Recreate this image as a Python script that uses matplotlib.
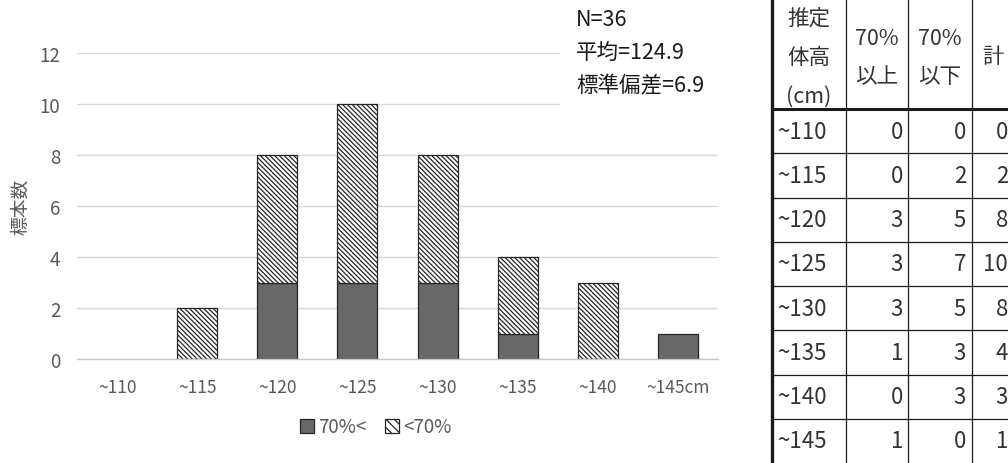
import numpy as np
import matplotlib
matplotlib.use("Agg")
import matplotlib.pyplot as plt
from matplotlib.patches import Patch, Rectangle

plt.rcParams['font.family'] = ['Noto Sans CJK JP', 'DejaVu Sans']
plt.rcParams['hatch.linewidth'] = 0.9

# data
categories = ['~110', '~115', '~120', '~125', '~130', '~135', '~140', '~145cm']
row_labels = ['~110', '~115', '~120', '~125', '~130', '~135', '~140', '~145']
above70 = [0, 0, 3, 3, 3, 1, 0, 1]   # 70%以上
below70 = [0, 2, 5, 7, 5, 3, 3, 0]   # 70%以下
totals = [a + b for a, b in zip(above70, below70)]
stats = ['N=36', '平均=124.9', '標準偏差=6.9']

W, H = 1008, 464
fig = plt.figure(figsize=(W / 100, H / 100), dpi=100)
ax = fig.add_axes([77 / W, 1 - 360 / H, 641 / W, 306 / H])

x = np.arange(len(categories))
gray = '#595959'
edge = '#262626'
hatch = '\\' * 7

# draw only non-zero segments (Excel style)
xa = [i for i, v in zip(x, above70) if v > 0]
va = [v for v in above70 if v > 0]
ax.bar(xa, va, 0.5, color='#686868', edgecolor=edge, linewidth=0.9, zorder=2)
xb = [i for i, v in zip(x, below70) if v > 0]
vb = [v for v in below70 if v > 0]
bb = [a for a, v in zip(above70, below70) if v > 0]
ax.bar(xb, vb, 0.5, bottom=bb, color='white', edgecolor=edge, linewidth=0.9,
       hatch=hatch, zorder=2)

ax.set_xlim(-0.5, len(categories) - 0.5)
ax.set_ylim(0, 12)
ax.set_yticks(range(0, 13, 2))
ax.set_xticks(x)
ax.set_xticklabels(categories)
ax.tick_params(axis='y', length=0, pad=12, labelsize=13.5, labelcolor=gray)
ax.tick_params(axis='x', length=0, pad=14, labelsize=12.5, labelcolor=gray)
ax.yaxis.grid(True, color='#d9d9d9', linewidth=1)
ax.set_axisbelow(True)
for s in ['top', 'right', 'left']:
    ax.spines[s].set_visible(False)
ax.spines['bottom'].set_color('#c8c8c8')
ax.spines['bottom'].set_linewidth(1)
ax.set_ylabel('標本数', fontsize=13.5, color=gray)
ax.yaxis.set_label_coords(-(77 - 31) / 641, 0.5)

# stats text box (white background hides the grid lines behind it)
fig.patches.append(Rectangle((560 / W, 1 - 109 / H), 165 / W, 106 / H,
                             transform=fig.transFigure, facecolor='white',
                             edgecolor='none', zorder=3))
for k, s in enumerate(stats):
    fig.text(576 / W, 1 - (20 + 33 * k) / H, s, fontsize=15.5, color='#1a1a1a',
             va='center', zorder=4)

# legend
handles = [Patch(facecolor='#686868', edgecolor=edge, linewidth=0.9),
           Patch(facecolor='white', edgecolor=edge, linewidth=0.9, hatch='\\\\\\\\')]
fig.legend(handles, ['70%<', '<70%'], loc='center', bbox_to_anchor=(376 / W, 1 - 428 / H),
           ncol=2, frameon=False, handlelength=0.7, handleheight=0.7, handletextpad=0.25,
           columnspacing=1.0, fontsize=13.5, labelcolor=gray, borderpad=0)

# table on the right, drawn in pixel coordinates
tax = fig.add_axes([760 / W, 0, 248 / W, 1])
tax.set_xlim(760, 1008)
tax.set_ylim(464, 0)
tax.axis('off')

line_c = '#1a1a1a'
txt_c = '#333333'
col_x = [772, 846, 908, 972, 1014]
head_bottom = 110
row_h = 44.25

tax.vlines(col_x[0], -5, 470, color=line_c, linewidth=2.4)
tax.vlines(col_x[1:], -5, 470, color=line_c, linewidth=0.9)
tax.hlines(head_bottom, col_x[0], col_x[-1], color=line_c, linewidth=2.2)
row_edges = [head_bottom + row_h * (i + 1) for i in range(len(row_labels) - 1)]
tax.hlines(row_edges, col_x[0], col_x[-1], color=line_c, linewidth=0.9)

fs_head = 15.5
fs_body = 16
for k, s in enumerate(['推定', '体高', '(cm)']):
    tax.text(809, 19 + 39 * k, s, ha='center', va='center', fontsize=fs_head, color=txt_c)
for cx, lines in [(877, ['70%', '以上']), (940, ['70%', '以下'])]:
    for k, s in enumerate(lines):
        tax.text(cx, 39 + 38 * k, s, ha='center', va='center', fontsize=fs_head, color=txt_c)
tax.text(993, 57, '計', ha='center', va='center', fontsize=fs_head, color=txt_c)

for i, lab in enumerate(row_labels):
    cy = head_bottom + row_h * (i + 0.5)
    tax.text(777, cy, lab, ha='left', va='center', fontsize=fs_body, color=txt_c)
    tax.text(903, cy, str(above70[i]), ha='right', va='center', fontsize=fs_body, color=txt_c)
    tax.text(966, cy, str(below70[i]), ha='right', va='center', fontsize=fs_body, color=txt_c)
    tax.text(1008, cy, str(totals[i]), ha='right', va='center', fontsize=fs_body, color=txt_c)

fig.savefig('out.png', dpi=100, facecolor='white')
